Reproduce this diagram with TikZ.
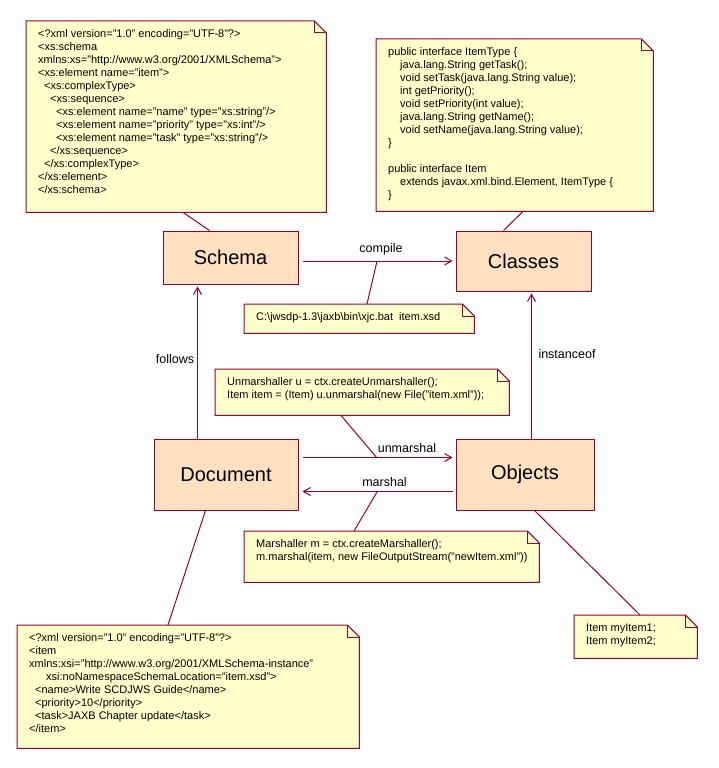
\documentclass[tikz,border=0pt]{standalone}
\usepackage{fontspec}
\setmainfont{Liberation Sans}
\usetikzlibrary{arrows.meta}
\definecolor{ln}{HTML}{990033}
\definecolor{notebg}{HTML}{FFFFCC}
\definecolor{boxbg}{HTML}{FFE0C0}
\pgfdeclarelayer{bg}
\pgfsetlayers{bg,main}
\newcommand\notebody[3]{\begin{minipage}[c][#2][t]{#1}\vspace*{7pt}\hspace*{12pt}\begin{tabular}[t]{@{}l@{}}#3\end{tabular}\end{minipage}}
\newcommand\noteframe[1]{\begin{pgfonlayer}{bg}\filldraw[notestyle] (#1.north west) -- ([xshift=-12pt]#1.north east) -- ([yshift=-12pt]#1.north east) -- (#1.south east) -- (#1.south west) -- cycle;\end{pgfonlayer}\draw[link] ([xshift=-12pt]#1.north east) |- ([yshift=-12pt]#1.north east);}
\newcommand\ind[1]{\hspace*{#1pt}}
\begin{document}
\begin{tikzpicture}[x=1pt,y=-1pt,
  notestyle/.style={fill=notebg, draw=ln, line width=1pt},
  link/.style={draw=ln, line width=1pt},
  note/.style={inner sep=0pt, anchor=north west, font=\fontsize{11pt}{13pt}\selectfont},
  box/.style={draw=ln, fill=boxbg, line width=1pt, inner sep=0pt, font=\fontsize{20pt}{24pt}\selectfont},
  lbl/.style={inner sep=0pt, font=\fontsize{12.5pt}{15pt}\selectfont},
  arr/.style={draw=ln, line width=1pt, -{Straight Barb[length=7pt,width=8pt]}}]
\begin{pgfonlayer}{bg}
\fill[white] (0,0) rectangle (718,768);
\end{pgfonlayer}
\useasboundingbox (0,0) rectangle (718,768);
% boxes
\node[box, minimum width=135pt, minimum height=53pt] (schema) at (230.5,257.5) {Schema};
\node[box, minimum width=135pt, minimum height=60pt] (classes) at (523.5,261) {Classes};
\node[box, minimum width=144pt, minimum height=71pt] (document) at (226,474.5) {Document};
\node[box, minimum width=138pt, minimum height=71pt] (objects) at (525,474.5) {Objects};
% notes
\node[note] (nschema) at (26,21) {\notebody{300pt}{191pt}{%
<?xml version="1.0" encoding="UTF-8"?>\\
<xs:schema\\
xmlns:xs="http://www.w3.org/2001/XMLSchema">\\
<xs:element name="item">\\
\ind{6}<xs:complexType>\\
\ind{12}<xs:sequence>\\
\ind{18}<xs:element name="name" type="xs:string"/>\\
\ind{18}<xs:element name="priority" type="xs:int"/>\\
\ind{18}<xs:element name="task" type="xs:string"/>\\
\ind{12}</xs:sequence>\\
\ind{6}</xs:complexType>\\
</xs:element>\\
</xs:schema>}};
\noteframe{nschema}
\node[note] (nclasses) at (376,39) {\notebody{277pt}{172pt}{%
public interface ItemType \{\\
\ind{12}java.lang.String getTask();\\
\ind{12}void setTask(java.lang.String value);\\
\ind{12}int getPriority();\\
\ind{12}void setPriority(int value);\\
\ind{12}java.lang.String getName();\\
\ind{12}void setName(java.lang.String value);\\
\}\\
\\
public interface Item\\
\ind{12}extends javax.xml.bind.Element, ItemType \{\\
\}}};
\noteframe{nclasses}
\node[note] (nxjc) at (244,304) {\notebody{230pt}{29pt}{%
C:\textbackslash jwsdp-1.3\textbackslash jaxb\textbackslash bin\textbackslash xjc.bat\ \ item.xsd}};
\noteframe{nxjc}
\node[note] (nunm) at (215,369) {\notebody{294pt}{46pt}{%
Unmarshaller u = ctx.createUnmarshaller();\\
Item item = (Item) u.unmarshal(new File("item.xml"));}};
\noteframe{nunm}
\node[note] (nmar) at (244,531) {\notebody{295pt}{51pt}{%
Marshaller m = ctx.createMarshaller();\\
m.marshal(item, new FileOutputStream("newItem.xml"))}};
\noteframe{nmar}
\node[note] (ndoc) at (17,625) {\notebody{342pt}{123pt}{%
<?xml version="1.0" encoding="UTF-8"?>\\
<item\\
xmlns:xsi="http://www.w3.org/2001/XMLSchema-instance"\\
\ind{17}xsi:noNamespaceSchemaLocation="item.xsd">\\
\ind{6}<name>Write SCDJWS Guide</name>\\
\ind{6}<priority>10</priority>\\
\ind{6}<task>JAXB Chapter update</task>\\
</item>}};
\noteframe{ndoc}
\node[note] (nitems) at (574,615) {\notebody{123pt}{43pt}{%
Item myItem1;\\
Item myItem2;}};
\noteframe{nitems}
% arrows
\draw[arr, shorten <=4pt, shorten >=3pt] (schema.east |- classes.west) -- (classes.west);
\draw[arr, shorten >=2pt] ([xshift=44pt]document.north west) -- ([xshift=44pt]document.north west |- schema.south);
\draw[arr, shorten >=2pt] ([xshift=76pt]objects.north west) -- ([xshift=76pt]objects.north west |- classes.south);
\draw[arr, shorten <=4pt, shorten >=3pt] ([yshift=-19pt]document.north east) -- ([yshift=-19pt]document.north east -| objects.west);
\draw[arr, shorten <=3pt, shorten >=4pt] ([yshift=-53pt]objects.north west) -- ([yshift=-53pt]objects.north west -| document.east);
% labels
\node[lbl] (lcompile) at (381,249) {compile};
\node[lbl] (lfollows) at (175,359) {follows};
\node[lbl] (linst) at (567,354) {instanceof};
\node[lbl] (lunm) at (407,448) {unmarshal};
\node[lbl] (lmar) at (384.5,482) {marshal};
% note links
\coordinate (kc) at (377,261);
\coordinate (ku) at (377,458);
\coordinate (km) at (377,492);
\draw[link] ([xshift=157pt]nschema.south west) -- ([xshift=47pt]schema.north west);
\draw[link] ([xshift=147pt]nclasses.south west) -- ([xshift=48pt]classes.north west);
\draw[link] (kc) -- ([xshift=123pt]nxjc.north west);
\draw[link] ([xshift=126pt]nunm.south west) -- (ku);
\draw[link] (km) -- ([xshift=110pt]nmar.north west);
\draw[link] ([xshift=52pt]document.south west) -- ([xshift=151pt]ndoc.north west);
\draw[link] ([xshift=79pt]objects.south west) -- ([xshift=66pt]nitems.north west);
\end{tikzpicture}
\end{document}
